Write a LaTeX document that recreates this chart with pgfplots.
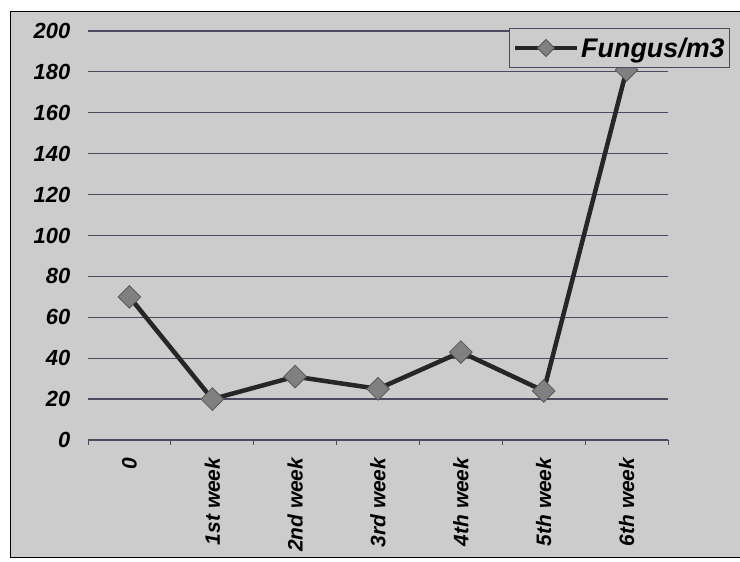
\documentclass[border=0pt]{standalone}
\usepackage{fontspec}
\setmainfont{Liberation Sans}
\usepackage{pgfplots}
\pgfplotsset{compat=1.18}
\definecolor{bg}{gray}{0.80}
\definecolor{gridc}{RGB}{75,75,95}
\begin{document}
\begin{tikzpicture}[x=1bp,y=1bp]
\path[use as bounding box] (0,0) rectangle (740,562);
\fill[white] (0,0) rectangle (740,562);
\draw[fill=bg, line width=1bp] (10,4) rectangle (745,550);
\begin{axis}[
  at={(88bp,122bp)}, anchor=south west,
  scale only axis, width=580bp, height=409bp,
  xmin=-0.5, xmax=6.5, ymin=0, ymax=200,
  xtick={0,...,6},
  xticklabels={0,1st week,2nd week,3rd week,4th week,5th week,6th week},
  minor xtick={-0.5,0.5,...,6.5},
  xtick pos=bottom, ytick pos=left,
  tick align=outside,
  major x tick style={draw=none},
  minor x tick style={gridc, line width=1bp},
  minor tick length=5bp,
  ytick={0,20,...,200},
  ytick style={draw=none},
  axis line style={draw=none},
  ymajorgrids,
  major grid style={gridc, line width=1.2bp},
  /pgf/number format/assume math mode=true,
  yticklabel style={font=\fontsize{22}{22}\selectfont\bfseries\itshape, xshift=-10bp},
  xticklabel style={font=\fontsize{21}{21}\selectfont\bfseries\itshape, rotate=90, anchor=east, xshift=-10bp},
  legend style={at={(1.107,1.007)}, anchor=north east, fill=bg, draw=gridc, line width=0.8bp,
    font=\fontsize{27}{27}\selectfont\bfseries\itshape, inner xsep=3bp, inner ysep=7bp},
  legend image code/.code={\draw[mark repeat=2,mark phase=2,#1,mark size=6bp] plot coordinates {(0bp,0bp)(31bp,0bp)(62bp,0bp)};},
]
\addplot[color=black!85, line width=4.5bp, mark=square*, mark size=8bp,
  mark options={rotate=45, fill=black!50, draw=black!65, line width=0.8bp}]
  coordinates {(0,70)(1,20)(2,31)(3,25)(4,43)(5,24)(6,181)};
\addlegendentry{Fungus/m3}
\end{axis}
\end{tikzpicture}
\end{document}
